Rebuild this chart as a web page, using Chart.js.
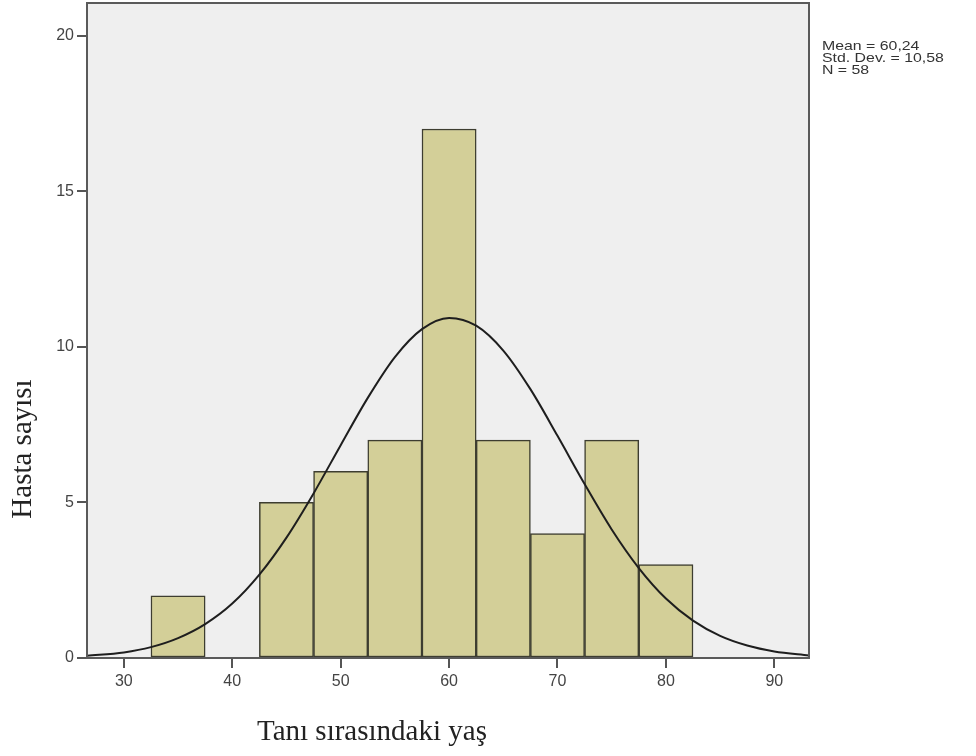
<!DOCTYPE html>
<html>
<head>
<meta charset="utf-8">
<script src="https://cdn.jsdelivr.net/npm/chart.js@4/dist/chart.umd.min.js"></script>
<style>
  html, body { margin: 0; padding: 0; background: #fff; }
  #wrap { width: 976px; height: 756px; }
</style>
</head>
<body>
<div id="wrap"><canvas id="myChart" width="976" height="756"></canvas></div>
<script>
// histogram bins (center of each 5-year bin) and counts
const binCenters = [35, 45, 50, 55, 60, 65, 70, 75, 80];
const binCounts = [2, 5, 6, 7, 17, 7, 4, 7, 3];

// normal curve, points
const curveX = [26.6, 30, 32.5, 35, 37.5, 40, 42.5, 45, 47.5, 50, 52.5, 55, 57.5, 60, 62.5, 65, 67.5, 70, 72.5, 75, 77.5, 80, 82.5, 85, 87.5, 90, 93.2];
const curveY = [0.07, 0.18, 0.35, 0.64, 1.09, 1.75, 2.68, 3.87, 5.29, 6.84, 8.36, 9.67, 10.57, 10.93, 10.68, 9.88, 8.64, 7.14, 5.59, 4.13, 2.89, 1.91, 1.2, 0.71, 0.4, 0.21, 0.08];

const statLines = ["Mean = 60,24", "Std. Dev. = 10,58", "N = 58"];
const xTitle = "Tanı sırasındaki yaş";
const yTitle = "Hasta sayısı";

const barData = binCenters.map((x, i) => ({ x: x, y: binCounts[i] }));
const curveData = curveX.map((x, i) => ({ x: x, y: curveY[i] }));

const frame = {
  id: "frame",
  beforeDraw(chart) {
    const { ctx, chartArea: a } = chart;
    ctx.save();
    ctx.fillStyle = "#efefef";
    ctx.fillRect(a.left, a.top, a.right - a.left, a.bottom - a.top);
    ctx.restore();
  },
  afterDraw(chart) {
    const { ctx, chartArea: a } = chart;
    ctx.save();
    ctx.strokeStyle = "#5a5a5a";
    ctx.lineWidth = 2;
    ctx.strokeRect(a.left, a.top, a.right - a.left, a.bottom - a.top);

    // stats box text
    ctx.fillStyle = "#333";
    ctx.font = "13px 'Liberation Sans', Arial, sans-serif";
    ctx.textBaseline = "middle";
    statLines.forEach((t, i) => {
      ctx.save();
      ctx.translate(822, 46 + i * 12);
      ctx.scale(1.22, 1);
      ctx.fillText(t, 0, 0);
      ctx.restore();
    });

    // axis titles
    ctx.fillStyle = "#222";
    ctx.font = "29px 'Liberation Serif', 'DejaVu Serif', serif";
    ctx.textBaseline = "alphabetic";
    ctx.textAlign = "left";
    ctx.fillText(xTitle, 257, 740);

    ctx.save();
    ctx.translate(31, 449);
    ctx.rotate(-Math.PI / 2);
    ctx.textAlign = "center";
    ctx.fillText(yTitle, 0, 0);
    ctx.restore();
    ctx.restore();
  }
};

new Chart(document.getElementById("myChart"), {
  type: "bar",
  data: {
    datasets: [
      {
        type: "line",
        data: curveData,
        borderColor: "#1e1e1e",
        borderWidth: 2,
        pointRadius: 0,
        cubicInterpolationMode: "monotone",
        fill: false,
        order: 0,
      },
      {
        type: "bar",
        data: barData,
        backgroundColor: "#d3cf98",
        borderColor: "#3d3d30",
        borderWidth: 1.5,
        borderSkipped: false,
        barPercentage: 1,
        categoryPercentage: 1,
        order: 1,
      },
    ],
  },
  options: {
    responsive: false,
    animation: false,
    layout: { padding: { top: 3, right: 167, left: 0, bottom: 0 } },
    plugins: { legend: { display: false }, tooltip: { enabled: false } },
    scales: {
      x: {
        type: "linear",
        min: 26.6,
        max: 93.2,
        offset: false,
        afterFit(scale) {
          scale.height = 98;
          scale.paddingLeft = 0;
          scale.paddingRight = 0;
        },
        grid: { offset: false, drawOnChartArea: false, tickLength: 10, color: "#555", lineWidth: 2 },
        border: { display: false },
        ticks: {
          stepSize: 10,
          includeBounds: false,
          color: "#444",
          padding: 4,
          font: { family: "'Liberation Sans', Arial, sans-serif", size: 16 },
        },
      },
      y: {
        min: 0,
        max: 21.05,
        afterFit(scale) {
          scale.width = 87;
          scale.paddingTop = 0;
          scale.paddingBottom = 0;
        },
        grid: { drawOnChartArea: false, tickLength: 10, color: "#555", lineWidth: 2 },
        border: { display: false },
        ticks: {
          stepSize: 5,
          includeBounds: false,
          color: "#444",
          padding: 3,
          font: { family: "'Liberation Sans', Arial, sans-serif", size: 16 },
        },
      },
    },
  },
  plugins: [frame],
});
</script>
</body>
</html>
